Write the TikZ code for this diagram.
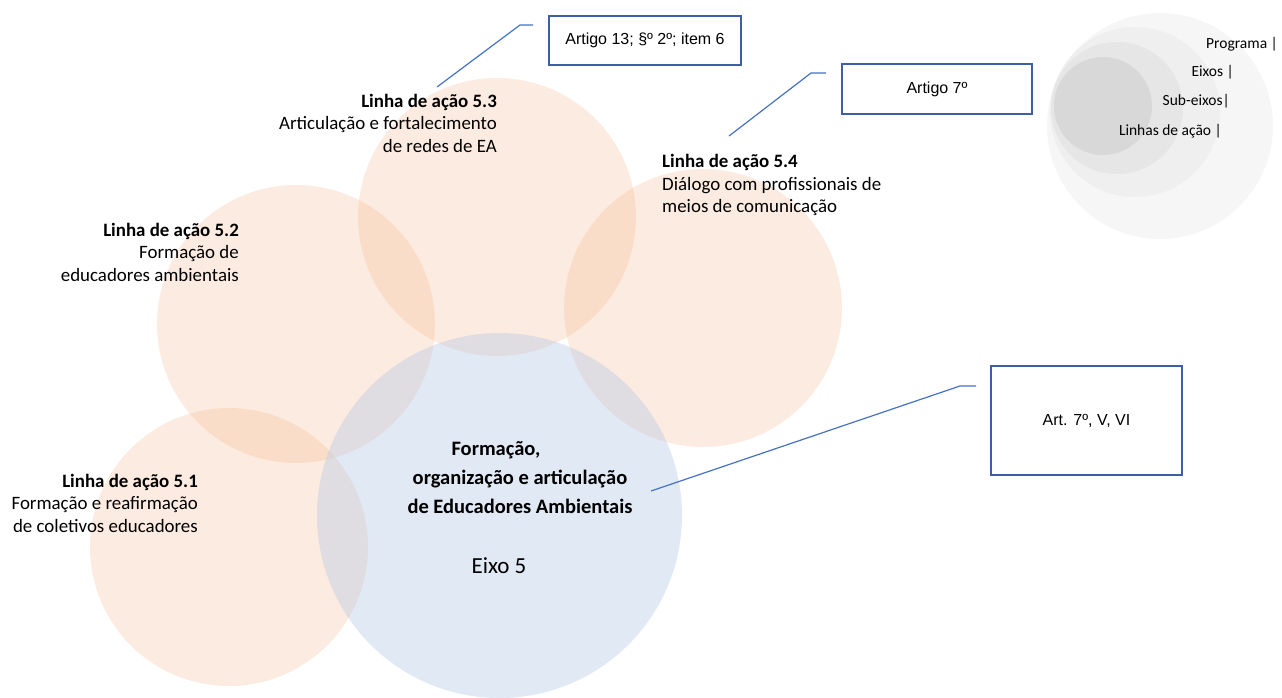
\documentclass[tikz,border=0pt]{standalone}
\usepackage{fontspec}
\setmainfont{Carlito}
\newfontfamily\arialf{Liberation Sans}
\definecolor{salmonc}{RGB}{244,177,131}
\definecolor{bluecc}{RGB}{180,199,231}
\definecolor{lineblue}{RGB}{68,114,196}
\definecolor{boxblue}{RGB}{60,95,165}
\begin{document}
\begin{tikzpicture}[x=1pt,y=-1pt,
  salmon/.style={circle,fill=salmonc,fill opacity=0.25,draw=none,inner sep=0pt,minimum size=278pt},
  bluecirc/.style={circle,fill=bluecc,fill opacity=0.4,draw=none,inner sep=0pt,minimum size=365pt},
  legc/.style={circle,draw=none,inner sep=0pt},
  lbl/.style={font=\fontsize{18.9}{22.5}\selectfont,inner sep=0pt},
  legt/.style={font=\fontsize{15.5}{18}\selectfont,inner sep=0pt,anchor=east},
  refbox/.style={draw=boxblue,line width=1.3pt,font=\arialf\fontsize{16}{19}\selectfont,inner sep=0pt},
  callout/.style={draw=lineblue,line width=1.2pt}]
\useasboundingbox (0,0) rectangle (1282,697);
% legend circles
\node[legc,fill={rgb,255:red,246;green,246;blue,246},minimum size=226pt] (lg1) at (1160,126) {};
\node[legc,fill={rgb,255:red,239;green,239;blue,239},minimum size=170pt] (lg2) at (1135,112) {};
\node[legc,fill={rgb,255:red,230;green,230;blue,230},minimum size=132pt] (lg3) at (1117,108) {};
\node[legc,fill={rgb,255:red,216;green,216;blue,216},minimum size=98pt] (lg4) at (1103,106) {};
\node[legt] (lp) at (1278,44) {Programa |};
\node[legt] (le) at (1234,72) {Eixos |};
\node[legt] (ls) at (1230,101) {Sub-eixos|};
\node[legt] (ll) at (1222,131) {Linhas de ação |};
% circles
\node[salmon] (c53) at (497,217) {};
\node[salmon] (c52) at (296,324) {};
\node[salmon] (c54) at (703,308) {};
\node[salmon] (c51) at (229,547) {};
\node[bluecirc] (c5) at (499.5,515.5) {};
% labels
\node[lbl,anchor=east,align=right] (t53) at (497,123) {\textbf{Linha de ação 5.3}\\Articulação e fortalecimento\\de redes de EA};
\node[lbl,anchor=east,align=right] (t52) at (239,252) {\textbf{Linha de ação 5.2}\\Formação de\\educadores ambientais};
\node[lbl,anchor=east,align=right] (t51) at (198,503) {\textbf{Linha de ação 5.1}\\Formação e reafirmação\\de coletivos educadores};
\node[lbl,anchor=west,align=left] (t54) at (662,185) {\textbf{Linha de ação 5.4}\\Diálogo com profissionais de\\meios de comunicação};
\node[inner sep=0pt,align=center,font=\bfseries\fontsize{20.5}{29}\selectfont] (tc) at (520,478) {Formação,\rule{48pt}{0pt}\\organização e articulação\\de Educadores Ambientais};
\node[inner sep=0pt,font=\fontsize{23}{27}\selectfont] (te) at (499,566) {Eixo 5};
% boxes
\node[refbox,minimum width=192pt,minimum height=49pt] (b1) at (645,40.5) {Artigo 13; §º 2º; item 6};
\node[refbox,minimum width=190pt,minimum height=50pt] (b2) at (937,89) {Artigo 7º};
\node[refbox,minimum width=191pt,minimum height=109pt] (b3) at (1086.5,420.5) {Art. 7º, V, VI};
% callouts
\coordinate (a1) at (437,87); \coordinate (a1k) at (520,25); \coordinate (a1e) at (533,25);
\coordinate (a2) at (729,136); \coordinate (a2k) at (811,73); \coordinate (a2e) at (826,73);
\coordinate (a3) at (651,491); \coordinate (a3k) at (960,386); \coordinate (a3e) at (976,386);
\draw[callout] (a1) -- (a1k) -- (a1e);
\draw[callout] (a2) -- (a2k) -- (a2e);
\draw[callout] (a3) -- (a3k) -- (a3e);
\end{tikzpicture}
\end{document}
